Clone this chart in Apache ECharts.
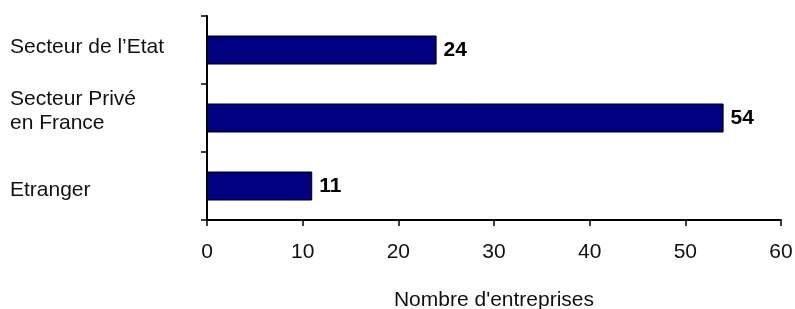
<!DOCTYPE html>
<html>
<head>
<meta charset="utf-8">
<script src="https://cdn.jsdelivr.net/npm/echarts@6/dist/echarts.min.js"></script>
<style>html,body{margin:0;padding:0;background:#fff}#c{width:795px;height:309px}</style>
</head>
<body>
<div id="c"></div>
<script>
var categories = ['Secteur de l\u2019Etat', 'Secteur Privé\nen France', 'Etranger'];
var values = [24, 54, 11];
var xTicks = [0, 10, 20, 30, 40, 50, 60];
var axisName = "Nombre d'entreprises";

var FONT = 'Liberation Sans, Arial, sans-serif';

function catLabel(value, index) {
  var lines = value.split('\n').map(function (l) { return '{t|' + l + '}'; }).join('\n');
  if (index === 0) return lines + '\n{s6|}';
  if (index === 1) return lines + '\n{s14|}';
  return '{s8|}\n' + lines;
}

var chart = echarts.init(document.getElementById('c'), null, {renderer: 'canvas'});
chart.setOption({
  animation: false,
  backgroundColor: '#fff',
  textStyle: {fontFamily: FONT},
  grid: {left: 207, right: 14, top: 16, bottom: 89, outerBoundsMode: 'none'},
  xAxis: {
    type: 'value',
    min: xTicks[0],
    max: xTicks[xTicks.length - 1],
    interval: xTicks[1] - xTicks[0],
    name: axisName,
    nameLocation: 'middle',
    nameGap: 70,
    nameTextStyle: {fontSize: 21, color: '#111', fontFamily: FONT},
    axisLine: {show: true, lineStyle: {color: '#000', width: 2}},
    axisTick: {show: true, length: 6, lineStyle: {color: '#000', width: 1.5}},
    axisLabel: {fontSize: 21, color: '#111', margin: 22, fontFamily: FONT},
    splitLine: {show: false}
  },
  yAxis: {
    type: 'category',
    inverse: true,
    data: categories,
    axisLine: {show: true, lineStyle: {color: '#000', width: 2}},
    axisTick: {show: true, length: 6, lineStyle: {color: '#000', width: 1.5}},
    axisLabel: {
      align: 'left', margin: 197,
      formatter: catLabel,
      rich: {
        t: {fontSize: 21, color: '#111', lineHeight: 24, fontFamily: FONT},
        s6: {fontSize: 6, lineHeight: 6, height: 6},
        s8: {fontSize: 8, lineHeight: 8, height: 8},
        s14: {fontSize: 14, lineHeight: 14, height: 14}
      }
    },
    splitLine: {show: false}
  },
  series: [{
    type: 'bar',
    data: values,
    barWidth: 29,
    itemStyle: {color: '#000080', borderColor: '#000', borderWidth: 1},
    label: {
      show: true, position: 'right', distance: 7,
      fontSize: 21, fontWeight: 'bold', color: '#000',
      fontFamily: FONT
    }
  }]
});
</script>
</body>
</html>
